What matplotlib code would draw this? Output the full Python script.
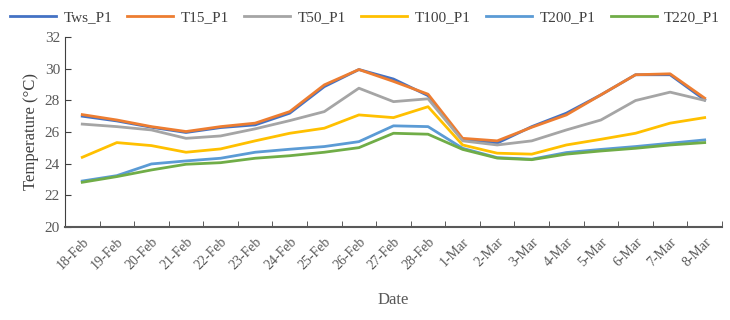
import numpy as np
import matplotlib.pyplot as plt

dates = ['18-Feb', '19-Feb', '20-Feb', '21-Feb', '22-Feb', '23-Feb', '24-Feb',
         '25-Feb', '26-Feb', '27-Feb', '28-Feb', '1-Mar', '2-Mar', '3-Mar',
         '4-Mar', '5-Mar', '6-Mar', '7-Mar', '8-Mar']

tws_p1 = [27.0, 26.7, 26.3, 25.97, 26.28, 26.45, 27.19, 28.87, 29.95, 29.35,
          28.3, 25.5, 25.3, 26.34, 27.19, 28.35, 29.62, 29.62, 28.03]
t15_p1 = [27.1, 26.76, 26.34, 26.03, 26.34, 26.56, 27.29, 28.98, 29.95, 29.2,
          28.39, 25.6, 25.44, 26.3, 27.08, 28.35, 29.62, 29.68, 28.14]
t50_p1 = [26.5, 26.34, 26.13, 25.6, 25.75, 26.2, 26.72, 27.29, 28.77, 27.92,
          28.1, 25.44, 25.18, 25.44, 26.13, 26.76, 27.99, 28.52, 28.0]
t100_p1 = [24.4, 25.33, 25.14, 24.72, 24.93, 25.44, 25.92, 26.24, 27.08, 26.91,
           27.6, 25.18, 24.66, 24.6, 25.18, 25.54, 25.92, 26.56, 26.91]
t200_p1 = [22.9, 23.24, 23.98, 24.17, 24.34, 24.72, 24.91, 25.08, 25.39, 26.39,
           26.34, 24.97, 24.38, 24.28, 24.7, 24.9, 25.08, 25.29, 25.5]
t220_p1 = [22.82, 23.18, 23.6, 23.96, 24.06, 24.34, 24.5, 24.72, 25.01, 25.92,
           25.86, 24.9, 24.35, 24.25, 24.6, 24.8, 24.97, 25.18, 25.33]

series = [('Tws_P1', tws_p1, '#4472C4'),
          ('T15_P1', t15_p1, '#ED7D31'),
          ('T50_P1', t50_p1, '#A5A5A5'),
          ('T100_P1', t100_p1, '#FFC000'),
          ('T200_P1', t200_p1, '#5B9BD5'),
          ('T220_P1', t220_p1, '#70AD47')]

plt.rcParams['font.family'] = ['Liberation Serif', 'DejaVu Serif']

fig = plt.figure(figsize=(7.3, 3.2), dpi=100)
ax = fig.add_axes([0.089, 0.291, 0.900, 0.593])

x = np.arange(len(dates))
for name, vals, col in series:
    ax.plot(x, vals, color=col, lw=2.0, label=name)

ax.set_xlim(-0.5, len(dates) - 0.5)
ax.set_ylim(20, 32)
ax.set_yticks(np.arange(20, 33, 2))
ax.set_xticks(x)
ax.set_xticklabels(dates, rotation=45, ha='right', rotation_mode='anchor',
                   fontsize=10, color='#595959')
ax.set_xticks(np.arange(len(dates) + 1) - 0.5, minor=True)
ax.tick_params(axis='x', which='major', length=0, pad=6)
ax.tick_params(axis='x', which='minor', direction='in', length=4,
               color='#404040')
ax.tick_params(axis='y', direction='in', length=4, color='#404040',
               labelsize=11, labelcolor='#595959')

for s in ['top', 'right']:
    ax.spines[s].set_visible(False)
ax.spines['left'].set_color('#404040')
ax.spines['bottom'].set_color('#595959')
ax.spines['bottom'].set_linewidth(1.5)

ax.set_ylabel('Temperature (°C)', fontsize=12, color='#404040')
ax.set_xlabel('Date', fontsize=12, color='#595959', labelpad=14)

fig.legend(loc='upper center', bbox_to_anchor=(0.5, 1.01), ncol=6,
           frameon=False, fontsize=11, handlelength=3.0, columnspacing=1.0,
           handletextpad=0.5, labelcolor='#404040')

fig.savefig('out.png', dpi=100)
